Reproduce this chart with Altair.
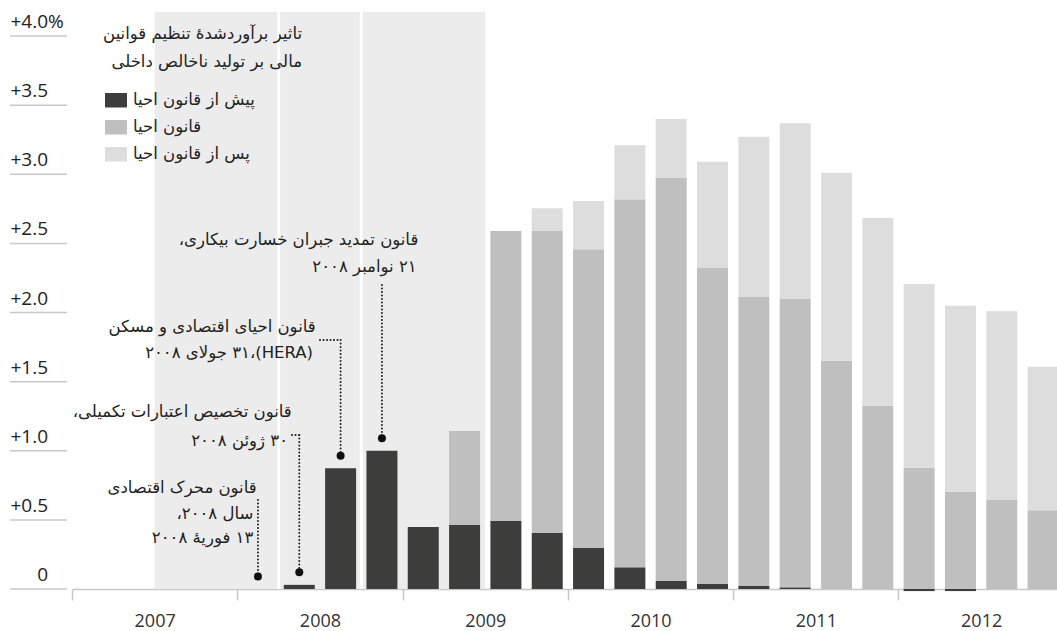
import altair as alt
import pandas as pd

# ---------------- data ----------------
years = [2007, 2008, 2009, 2010, 2011, 2012]
quarter_labels = [f"{y}Q{q}" for y in years for q in range(1, 5)]

series_names = ["پیش از قانون احیا", "قانون احیا", "پس از قانون احیا"]
series_colors = ["#3d3d3b", "#bfbfbf", "#dddddd"]

# segment heights (percent of GDP) per quarter, 2007Q1 .. 2012Q4
pre_act = [0, 0, 0, 0,
           0, 0.03, 0.873, 1.0,
           0.448, 0.465, 0.492, 0.405,
           0.297, 0.157, 0.058, 0.036,
           0.022, 0.012, 0, 0,
           -0.015, -0.015, 0, 0]
recovery_act = [0, 0, 0, 0,
                0, 0, 0, 0,
                0, 0.678, 2.098, 2.185,
                2.160, 2.662, 2.915, 2.286,
                2.090, 2.086, 1.651, 1.326,
                0.878, 0.704, 0.644, 0.569]
post_act = [0, 0, 0, 0,
            0, 0, 0, 0,
            0, 0, 0, 0.164,
            0.350, 0.390, 0.427, 0.769,
            1.160, 1.270, 1.360, 1.358,
            1.328, 1.345, 1.365, 1.039]

y_tick_values = [0, 0.5, 1.0, 1.5, 2.0, 2.5, 3.0, 3.5, 4.0]
y_tick_labels = ["0", "+0.5", "+1.0", "+1.5", "+2.0", "+2.5", "+3.0", "+3.5", "+4.0"]

recession_start = [2007.5]
recession_end = [2009.5]
dividers = [2008.25, 2008.75]

legend_title = ["تاثیر برآوردشدهٔ تنظیم قوانین", "مالی بر تولید ناخالص داخلی"]

# annotation: quarter of the dot, top of leader (value units)
ann_quarters = ["2008Q1", "2008Q2", "2008Q3", "2008Q4"]
ann_leader_top = [0.644, 1.114, 1.801, 2.199]
ann_hleader_start = [None, 2008.331, 2008.5, None]
ann_lines = [
    ["قانون محرک اقتصادی", "سال ۲۰۰۸،", "۱۳ فوریهٔ ۲۰۰۸"],
    ["قانون تخصیص اعتبارات تکمیلی،", "۳۰ ژوئن ۲۰۰۸"],
    ["قانون احیای اقتصادی و مسکن", "(HERA)،۳۱ جولای ۲۰۰۸"],
    ["قانون تمدید جبران خسارت بیکاری،", "۲۱ نوامبر ۲۰۰۸"],
]
ann_line_x = [
    [2008.117, 2008.097, 2008.097],
    [2008.329, 2008.307],
    [2008.474, 2008.458],
    [2009.095, 2009.085],
]
ann_line_y = [
    [0.731, 0.543, 0.369],
    [1.280, 1.071],
    [1.895, 1.707],
    [2.524, 2.331],
]

RLE, PDF = "\u202b", "\u202c"


def rtl(s):
    return RLE + s + PDF


# ---------------- tables ----------------
def qstart(label):
    y, q = label.split("Q")
    return int(y) + (int(q) - 1) * 0.25


rows = []
for i, ql in enumerate(quarter_labels):
    for k, vals in enumerate([pre_act, recovery_act, post_act]):
        rows.append({"t": qstart(ql), "series": series_names[k], "order": k, "value": vals[i]})
bars_df = pd.DataFrame(rows)

totals = {ql: sum(max(v[i], 0) for v in [pre_act, recovery_act, post_act])
          for i, ql in enumerate(quarter_labels)}
dots_df = pd.DataFrame({
    "xc": [qstart(q) + 0.125 for q in ann_quarters],
    "total": [totals[q] for q in ann_quarters],
    "top": ann_leader_top,
})
hlead_rows = [{"x1": s, "x2": qstart(q) + 0.125, "y": top}
              for s, q, top in zip(ann_hleader_start, ann_quarters, ann_leader_top) if s is not None]
hlead_df = pd.DataFrame(hlead_rows)

ann_rows = []
for lines, xs, ys in zip(ann_lines, ann_line_x, ann_line_y):
    for s, x, y in zip(lines, xs, ys):
        ann_rows.append({"x": x, "y": y, "text": rtl(s)})
ann_df = pd.DataFrame(ann_rows)

legend_df = pd.DataFrame({"series": series_names, "idx": [0, 1, 2],
                          "label": [rtl(s) for s in series_names]})
title_df = pd.DataFrame({"line": [rtl(s) for s in legend_title], "idx": [0, 1]})
yticks_df = pd.DataFrame({"v": y_tick_values, "label": y_tick_labels})

# ---------------- scales ----------------
W, H = 985, 577
NUM_FONT = "Open Sans"
FA_FONT = "DejaVu Sans"
FA_SIZE = 16.5
GRID = "#c8c8c8"
xscale = alt.Scale(domain=[2007, 2012.959], nice=False, zero=False)
yscale = alt.Scale(domain=[0, 4.1736], nice=False, zero=False)
cscale = alt.Scale(domain=series_names, range=series_colors)
xaxis = alt.Axis(values=years, format="d", labelOffset=82.65, labelFlush=False,
                 tickSize=11, tickColor=GRID, tickWidth=1.5, domainColor=GRID,
                 domainWidth=1.5, labelFont=NUM_FONT, labelFontSize=18,
                 labelColor="#333", labelPadding=12, grid=False, title=None)


def X(field):
    return alt.X(field, scale=xscale, axis=xaxis, title=None)


def Y(field):
    return alt.Y(field, scale=yscale, axis=None, title=None)


band = alt.Chart(pd.DataFrame({"s": recession_start, "e": recession_end})).mark_rect(
    color="#ececec").encode(x=X("s:Q"), x2="e:Q", y=alt.value(0), y2=alt.value(H))

divs = alt.Chart(pd.DataFrame({"d": dividers})).mark_rule(
    color="white", strokeWidth=3).encode(x=X("d:Q"), y=alt.value(0), y2=alt.value(H))

bars = alt.Chart(bars_df).transform_filter("datum.value != 0").transform_stack(
    stack="value", groupby=["t"], as_=["v0", "v1"],
    sort=[alt.SortField("order", "ascending")]
).transform_calculate(
    xa="datum.t + 0.03125", xb="datum.t + 0.21875"
).mark_bar().encode(
    x=X("xa:Q"), x2="xb:Q", y=Y("v0:Q"), y2="v1:Q",
    color=alt.Color("series:N", scale=cscale, legend=None),
)

gridsegs = alt.Chart(yticks_df).mark_rule(color=GRID, strokeWidth=1.5).encode(
    y=Y("v:Q"), x=alt.value(-62), x2=alt.value(-5))

ylabels = alt.Chart(yticks_df).mark_text(
    align="right", baseline="alphabetic", dy=-8, font=NUM_FONT, fontSize=19, color="#222"
).encode(y=Y("v:Q"), x=alt.value(-24), text="label:N")

pct = alt.Chart(pd.DataFrame({"v": [4.0], "t": ["%"]})).mark_text(
    align="left", baseline="alphabetic", dy=-8, font=NUM_FONT, fontSize=19, color="#222"
).encode(y=Y("v:Q"), x=alt.value(-24), text="t:N")

leg_rect = alt.Chart(legend_df).transform_calculate(
    ya="81 + 27 * datum.idx", yb="95.5 + 27 * datum.idx"
).mark_rect().encode(
    x=alt.value(33), x2=alt.value(55),
    y=alt.Y("ya:Q", scale=None, axis=None), y2="yb:Q",
    color=alt.Color("series:N", scale=cscale, legend=None))

leg_text = alt.Chart(legend_df).transform_calculate(
    ym="88 + 27 * datum.idx"
).mark_text(align="left", baseline="middle", font=FA_FONT, fontSize=FA_SIZE, color="#222").encode(
    x=alt.value(61), y=alt.Y("ym:Q", scale=None, axis=None), text="label:N")

leg_title = alt.Chart(title_df).transform_calculate(
    ym="22 + 28 * datum.idx"
).mark_text(align="right", baseline="middle", font=FA_FONT, fontSize=FA_SIZE, color="#222").encode(
    x=alt.value(230), y=alt.Y("ym:Q", scale=None, axis=None), text="line:N")

vlead = alt.Chart(dots_df).mark_rule(
    color="#222", strokeWidth=2, strokeDash=[0.1, 3.4], strokeCap="round", y2Offset=-12.5
).encode(x=X("xc:Q"), y=Y("top:Q"), y2="total:Q")

hlead = alt.Chart(hlead_df).mark_rule(
    color="#222", strokeWidth=2, strokeDash=[0.1, 3.4], strokeCap="round"
).encode(x=X("x1:Q"), x2="x2:Q", y=Y("y:Q"))

dots = alt.Chart(dots_df).mark_circle(size=64, color="#111", opacity=1, yOffset=-12.5).encode(
    x=X("xc:Q"), y=Y("total:Q"))

ann = alt.Chart(ann_df).mark_text(
    align="right", baseline="middle", font=FA_FONT, fontSize=FA_SIZE, color="#222"
).encode(x=X("x:Q"), y=Y("y:Q"), text="text:N")

chart = alt.layer(
    band, divs, bars, gridsegs, ylabels, pct, leg_rect, leg_text, leg_title,
    vlead, hlead, dots, ann
).properties(
    width=W, height=H, autosize="none",
    padding={"left": 72, "top": 12, "right": 0, "bottom": 42},
    background="white",
).configure_view(stroke=None)

chart.save("out.html", embed_options={"renderer": "svg", "actions": False})
